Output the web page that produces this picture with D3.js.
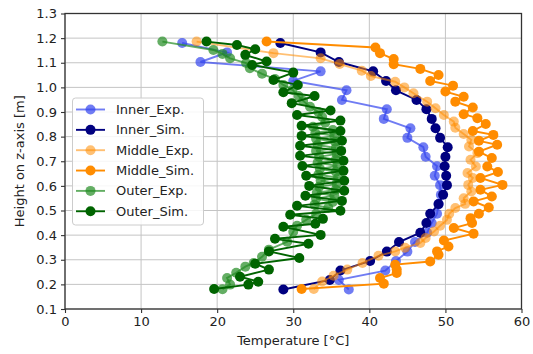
<!DOCTYPE html>
<html>
<head>
<meta charset="utf-8">
<script src="https://cdn.jsdelivr.net/npm/d3@7"></script>
<style>
  html, body { margin: 0; padding: 0; background: #fff; }
  svg { display: block; font-family: "DejaVu Sans", sans-serif; }
</style>
</head>
<body>
<svg id="chart" width="533" height="354"></svg>
<script>
// Vertical temperature profiles at three radial positions (inner, middle, outer),
// measured (Exp.) and simulated (Sim.).

// Inner position: shared sampling heights [m]
const innerHeights = [1.180, 1.142, 1.103, 1.065, 1.026, 0.988, 0.949, 0.911, 0.872, 0.834,
  0.795, 0.757, 0.718, 0.680, 0.641, 0.603, 0.564, 0.526, 0.487, 0.449,
  0.410, 0.372, 0.333, 0.295, 0.256, 0.218, 0.179];
const innerExpTemps = [15.4, 21.3, 17.8, 33.6, 30.0, 37.0, 36.4, 42.3, 41.9, 45.4,
  45.0, 47.1, 47.4, 48.9, 48.6, 49.3, 49.4, 49.1, 48.9, 48.2,
  47.6, 46.0, 45.0, 43.5, 42.1, 36.0, 37.3];
const innerSimTemps = [28.3, 33.6, 36.0, 40.5, 42.2, 43.5, 46.2, 47.5, 48.2, 48.7,
  49.3, 50.3, 50.0, 49.9, 50.1, 50.2, 49.7, 49.1, 48.0, 47.5,
  46.7, 43.9, 42.3, 40.1, 36.2, 34.8, 28.7];

// Middle position
const middleExpHeights = [1.186, 1.139, 1.118, 1.095, 1.068, 1.046, 1.023, 1.000, 0.976, 0.942,
  0.915, 0.888, 0.861, 0.836, 0.811, 0.787, 0.760, 0.733, 0.706, 0.679,
  0.652, 0.632, 0.604, 0.577, 0.550, 0.527, 0.510, 0.487, 0.462, 0.438,
  0.415, 0.388, 0.368, 0.349, 0.334, 0.316, 0.287, 0.260, 0.235, 0.212, 0.181];
const middleExpTemps = [17.3, 27.4, 33.6, 36.1, 39.0, 40.2, 43.4, 44.6, 45.8, 47.6,
  48.7, 49.8, 51.1, 51.3, 52.4, 53.4, 53.1, 54.2, 53.3, 54.0,
  52.9, 53.6, 53.0, 53.4, 52.4, 52.6, 51.3, 50.5, 50.2, 49.3,
  48.5, 47.4, 46.7, 44.7, 43.4, 41.2, 39.1, 37.1, 35.3, 33.8, 32.7];
const middleSimHeights = [1.186, 1.162, 1.139, 1.115, 1.094, 1.075, 1.050, 1.026, 1.007, 0.983,
  0.962, 0.942, 0.918, 0.891, 0.875, 0.851, 0.823, 0.807, 0.783, 0.767,
  0.739, 0.713, 0.679, 0.656, 0.632, 0.604, 0.584, 0.557, 0.537, 0.512,
  0.487, 0.469, 0.449, 0.429, 0.406, 0.378, 0.354, 0.334, 0.320, 0.293,
  0.280, 0.260, 0.246, 0.226, 0.203, 0.181];
const middleSimTemps = [26.5, 40.8, 41.4, 43.2, 43.2, 46.7, 49.1, 48.0, 51.0, 50.0,
  52.4, 51.3, 53.6, 52.4, 54.2, 55.3, 53.6, 56.3, 54.4, 56.8,
  54.4, 56.1, 55.5, 56.9, 54.6, 57.5, 54.6, 56.1, 53.7, 55.7,
  54.4, 53.3, 53.5, 51.1, 53.7, 49.8, 50.4, 48.9, 49.1, 48.0,
  43.4, 43.6, 43.6, 41.4, 41.9, 31.1];

// Outer position
const outerExpHeights = [1.186, 1.152, 1.136, 1.118, 1.099, 1.078, 1.055, 1.034, 1.010, 0.990,
  0.965, 0.945, 0.921, 0.900, 0.880, 0.856, 0.840, 0.827, 0.815, 0.803,
  0.791, 0.779, 0.766, 0.754, 0.742, 0.730, 0.718, 0.706, 0.694, 0.681,
  0.669, 0.657, 0.645, 0.633, 0.621, 0.608, 0.596, 0.584, 0.572, 0.560,
  0.548, 0.535, 0.523, 0.511, 0.487, 0.462, 0.438, 0.414, 0.373, 0.341,
  0.312, 0.287, 0.272, 0.247, 0.226, 0.199, 0.180];
const outerExpTemps = [12.8, 19.5, 20.7, 21.7, 23.8, 24.3, 25.9, 27.6, 28.7, 29.9,
  30.7, 31.3, 32.2, 33.3, 33.8, 34.2, 32.6, 35.2, 32.9, 35.4,
  33.0, 35.5, 33.2, 35.6, 33.0, 35.7, 33.4, 35.6, 33.2, 35.8,
  33.5, 35.6, 33.3, 35.9, 33.6, 35.7, 33.4, 35.6, 33.1, 35.4,
  33.0, 35.2, 32.8, 34.6, 33.0, 31.7, 30.5, 30.0, 29.2, 26.8,
  25.9, 24.8, 23.7, 22.5, 21.3, 21.7, 20.7];
const outerSimHeights = [1.186, 1.172, 1.155, 1.132, 1.105, 1.091, 1.060, 1.030, 1.010, 0.980,
  0.965, 0.936, 0.906, 0.888, 0.865, 0.844, 0.823, 0.803, 0.783, 0.763,
  0.742, 0.722, 0.702, 0.681, 0.661, 0.641, 0.621, 0.600, 0.580, 0.560,
  0.539, 0.519, 0.499, 0.483, 0.466, 0.446, 0.434, 0.401, 0.385, 0.365,
  0.334, 0.307, 0.284, 0.260, 0.231, 0.211, 0.199, 0.181];
const outerSimTemps = [18.6, 22.6, 25.0, 23.7, 26.5, 24.6, 30.0, 27.4, 30.6, 28.7,
  32.8, 29.8, 34.9, 30.5, 36.2, 31.1, 36.2, 31.1, 36.4, 30.9,
  36.3, 30.9, 36.6, 31.2, 36.6, 31.7, 36.7, 32.1, 36.7, 31.6,
  36.4, 30.5, 36.2, 29.6, 33.9, 32.9, 28.7, 33.6, 27.6, 32.0,
  26.8, 30.8, 25.0, 26.8, 23.0, 25.4, 24.1, 19.6];

// Axis ticks
const xTicks = [0, 10, 20, 30, 40, 50, 60];
const yTicks = [0.1, 0.2, 0.3, 0.4, 0.5, 0.6, 0.7, 0.8, 0.9, 1.0, 1.1, 1.2, 1.3];

const seriesNames = ["Inner_Exp.", "Inner_Sim.", "Middle_Exp.", "Middle_Sim.", "Outer_Exp.", "Outer_Sim."];
const seriesColors = ["#3344ee", "#000080", "#ff8c00", "#ff8c00", "#228b22", "#006400"];
const seriesAlphas = [0.7, 1, 0.55, 1, 0.7, 1];

const series = [
  { h: innerHeights, t: innerExpTemps },
  { h: innerHeights, t: innerSimTemps },
  { h: middleExpHeights, t: middleExpTemps },
  { h: middleSimHeights, t: middleSimTemps },
  { h: outerExpHeights, t: outerExpTemps },
  { h: outerSimHeights, t: outerSimTemps }
].map((s, i) => ({
  name: seriesNames[i], color: seriesColors[i], alpha: seriesAlphas[i],
  points: s.h.map((h, k) => ({ h, t: s.t[k] }))
}));

const plot = { left: 65, right: 521.5, top: 13.5, bottom: 309 };
const x = d3.scaleLinear().domain([0, 60]).range([plot.left, plot.right]);
const y = d3.scaleLinear().domain([0.1, 1.3]).range([plot.bottom, plot.top]);

const svg = d3.select("#chart");
const fontSize = 13;
const markerR = 5;
const lineW = 1.9;

// grid
const grid = svg.append("g").attr("stroke", "#c4c4c4").attr("stroke-width", 1);
grid.selectAll("line.vx").data(xTicks).join("line")
  .attr("x1", d => x(d)).attr("x2", d => x(d))
  .attr("y1", plot.top).attr("y2", plot.bottom);
grid.selectAll("line.hy").data(yTicks).join("line")
  .attr("y1", d => y(d)).attr("y2", d => y(d))
  .attr("x1", plot.left).attr("x2", plot.right);

// axes
const xAxis = svg.append("g")
  .attr("transform", `translate(0,${plot.bottom})`)
  .call(d3.axisBottom(x).tickValues(xTicks).tickFormat(d3.format("d")).tickSize(4).tickPadding(4));
const yAxis = svg.append("g")
  .attr("transform", `translate(${plot.left},0)`)
  .call(d3.axisLeft(y).tickValues(yTicks).tickFormat(d3.format(".1f")).tickSize(4).tickPadding(4));
[xAxis, yAxis].forEach(a => {
  a.select(".domain").remove();
  a.selectAll(".tick line").attr("stroke", "#333").attr("stroke-width", 1.1);
  a.selectAll(".tick text").attr("fill", "#222")
    .style("font-family", "DejaVu Sans").style("font-size", fontSize + "px");
});

// data lines and markers
const line = d3.line().x(d => x(d.t)).y(d => y(d.h));
const marks = svg.append("g");
series.forEach(s => {
  const g = marks.append("g");
  g.append("path").datum(s.points)
    .attr("d", line).attr("fill", "none")
    .attr("stroke", s.color).attr("stroke-opacity", s.alpha).attr("stroke-width", lineW);
  g.selectAll("circle").data(s.points).join("circle")
    .attr("cx", d => x(d.t)).attr("cy", d => y(d.h)).attr("r", markerR)
    .attr("fill", s.color).attr("fill-opacity", s.alpha);
});

// frame
svg.append("rect")
  .attr("x", plot.left).attr("y", plot.top)
  .attr("width", plot.right - plot.left).attr("height", plot.bottom - plot.top)
  .attr("fill", "none").attr("stroke", "#333").attr("stroke-width", 1.3);

// axis labels
svg.append("text")
  .attr("x", (plot.left + plot.right) / 2).attr("y", 345)
  .attr("text-anchor", "middle").attr("fill", "#222")
  .style("font-size", fontSize + "px")
  .text("Temperature [°C]");
svg.append("text")
  .attr("transform", `translate(24,${(plot.top + plot.bottom) / 2}) rotate(-90)`)
  .attr("text-anchor", "middle").attr("fill", "#222")
  .style("font-size", fontSize + "px")
  .text("Height on z-axis [m]");

// legend
const legend = svg.append("g");
legend.append("rect")
  .attr("x", 72.5).attr("y", 98).attr("width", 131).attr("height", 127).attr("rx", 3)
  .attr("fill", "#fff").attr("fill-opacity", 0.85)
  .attr("stroke", "#cccccc").attr("stroke-width", 1);
series.forEach((s, i) => {
  const ly = 109.5 + i * 20.35;
  legend.append("line")
    .attr("x1", 76).attr("x2", 105).attr("y1", ly).attr("y2", ly)
    .attr("stroke", s.color).attr("stroke-opacity", s.alpha).attr("stroke-width", lineW);
  legend.append("circle")
    .attr("cx", 90.5).attr("cy", ly).attr("r", markerR)
    .attr("fill", s.color).attr("fill-opacity", s.alpha);
  legend.append("text")
    .attr("x", 116).attr("y", ly).attr("dy", "0.35em")
    .attr("fill", "#222").style("font-size", fontSize + "px")
    .text(s.name);
});
</script>
</body>
</html>
